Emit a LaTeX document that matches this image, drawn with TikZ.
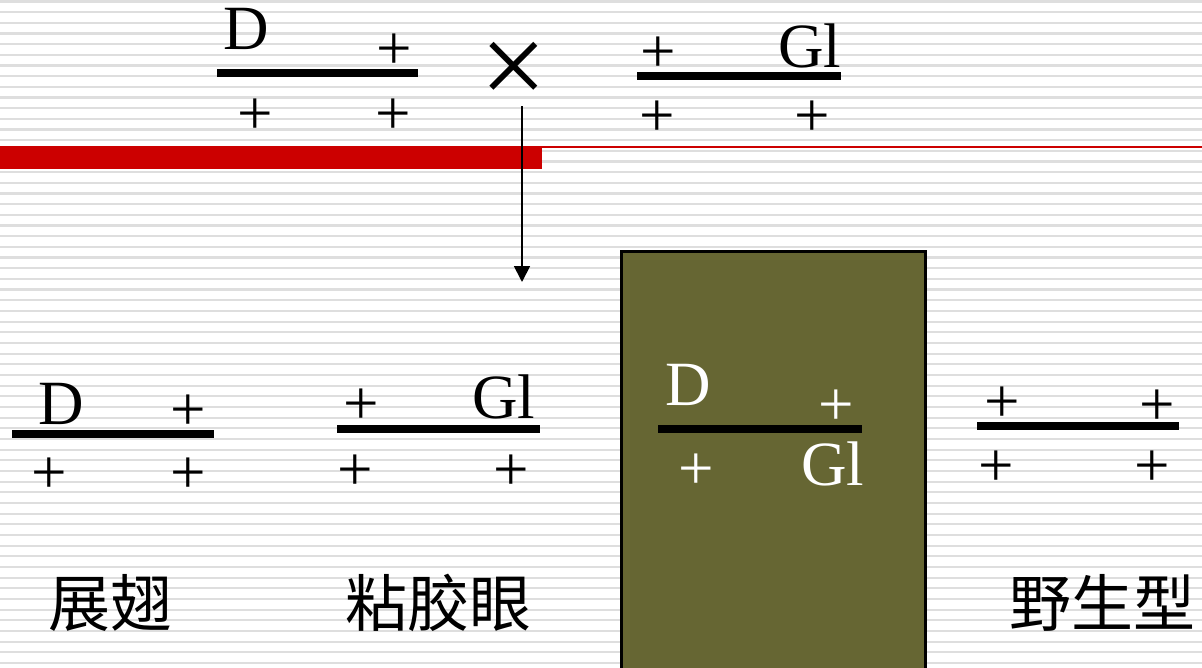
\documentclass[tikz,border=0pt]{standalone}
\usepackage{fontspec}
\setmainfont{Liberation Serif}
\newfontfamily\cjk{Noto Sans CJK SC}
\usetikzlibrary{arrows.meta}
\definecolor{stripe}{HTML}{DEDEDE}
\definecolor{barred}{HTML}{CC0000}
\definecolor{olive}{HTML}{666633}
\tikzset{
  lbl/.style={font=\fontsize{63}{63}\selectfont, inner sep=0pt, anchor=base},
  pl/.style={font=\fontsize{63}{63}\selectfont, inner sep=0pt, yshift=-4pt},
  chrom/.style={line width=7.5pt, black},
  cn/.style={font=\cjk\fontsize{62}{62}\selectfont, inner sep=0pt},
  wht/.style={text=white}
}
\begin{document}
\begin{tikzpicture}[x=1pt,y=-1pt]
\useasboundingbox (0,0) rectangle (1202,667);
% background stripes
\foreach \i in {0,...,62} {
  \draw[stripe, line width=2.2pt] (0,{1.5+\i*10.67}) -- (1202,{1.5+\i*10.67});
}
% red bar
\fill[barred] (0,146) rectangle (542,169);
\draw[barred, line width=2.2pt] (542,147) -- (1202,147);

% top-left parent
\node[lbl] (tlD) at (246,49) {D};
\node[pl] (tlP1) at (394,48) {+};
\coordinate (tlA) at (217,73); \coordinate (tlB) at (418,73);
\draw[chrom] (tlA) -- (tlB);
\node[pl] (tlP2) at (255,113) {+};
\node[pl] (tlP3) at (393,113) {+};

% cross
\node[font=\fontsize{118}{118}\selectfont, inner sep=0pt] (cross) at (514,74) {×};

% top-right parent
\node[pl] (trP1) at (658,51) {+};
\node[lbl] (trG) at (810,67) {Gl};
\coordinate (trA) at (637,76); \coordinate (trB) at (841,76);
\draw[chrom] (trA) -- (trB);
\node[pl] (trP2) at (657,115) {+};
\node[pl] (trP3) at (812,115) {+};

% arrow
\coordinate (arrS) at (522,106);
\coordinate (arrE) at (522,282);
\draw[line width=1.8pt, -{Triangle[width=16pt,length=16pt]}] (arrS) -- (arrE);

% olive box
\node[draw=black, line width=3pt, fill=olive, minimum width=304pt, minimum height=420pt, inner sep=0pt, anchor=north west] (box) at (620,250) {};

% bottom-left offspring
\node[lbl] (blD) at (61,424) {D};
\node[pl] (blP1) at (188,409) {+};
\coordinate (blA) at (12,434); \coordinate (blB) at (214,434);
\draw[chrom] (blA) -- (blB);
\node[pl] (blP2) at (49,472) {+};
\node[pl] (blP3) at (188,472) {+};
\node[cn] (lab1) at (110,603) {展翅};

% middle offspring
\node[pl] (mP1) at (361,403) {+};
\node[lbl] (mG) at (504,418) {Gl};
\coordinate (mA) at (337,429); \coordinate (mB) at (540,429);
\draw[chrom] (mA) -- (mB);
\node[pl] (mP2) at (355,469) {+};
\node[pl] (mP3) at (511,469) {+};
\node[cn] (lab2) at (438,603) {粘胶眼};

% boxed offspring
\node[lbl, wht] (bxD) at (688,405) {D};
\node[pl, wht] (bxP1) at (836,404) {+};
\coordinate (bxA) at (658,429); \coordinate (bxB) at (862,429);
\draw[chrom] (bxA) -- (bxB);
\node[pl, wht] (bxP2) at (696,468) {+};
\node[lbl, wht] (bxG) at (833,485) {Gl};

% right offspring
\node[pl] (rP1) at (1002,401) {+};
\node[pl] (rP2) at (1157,404) {+};
\coordinate (rA) at (977,426); \coordinate (rB) at (1179,426);
\draw[chrom] (rA) -- (rB);
\node[pl] (rP3) at (996,465) {+};
\node[pl] (rP4) at (1152,465) {+};
\node[cn] (lab3) at (1102,603) {野生型};
\end{tikzpicture}
\end{document}
